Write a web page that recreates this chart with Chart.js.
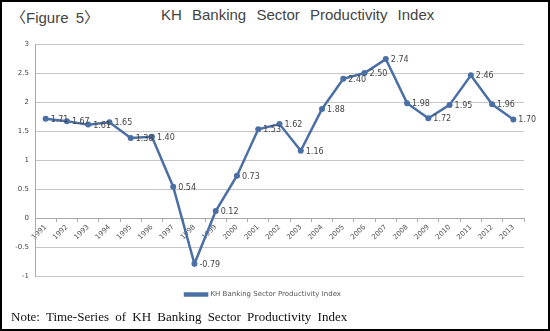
<!DOCTYPE html>
<html>
<head>
<meta charset="utf-8">
<script src="https://cdn.jsdelivr.net/npm/chart.js@4"></script>
<style>
  body { margin: 0; background: #fff; }
  #frame { position: relative; width: 550px; height: 331px; box-sizing: border-box; border: 2px solid #000; overflow: hidden; }
  #fig { position: absolute; left: 9px; top: 4px; font: 15px "Liberation Sans", "Noto Sans CJK KR", sans-serif; color: #444; word-spacing: 3px; }
  #title { position: absolute; left: 159px; top: 4px; font: 15px "Liberation Sans", sans-serif; color: #444; word-spacing: 6px; }
  #note { position: absolute; left: 9px; top: 307px; font: 13px "Liberation Serif", serif; color: #111; word-spacing: 3px; }
  #box { position: absolute; left: 0px; top: 30px; width: 546px; height: 278px; }
</style>
</head>
<body>
<div id="frame">
  <div id="fig">〈Figure 5〉</div>
  <div id="title">KH Banking Sector Productivity Index</div>
  <div id="box"><canvas id="chart"></canvas></div>
  <div id="note">Note: Time-Series of KH Banking Sector Productivity Index</div>
</div>
<script>
// -------------------------------
// DATA
// -------------------------------
const years = ["1991", "1992", "1993", "1994", "1995", "1996", "1997", "1998", "1999", "2000", "2001", "2002",
               "2003", "2004", "2005", "2006", "2007", "2008", "2009", "2010", "2011", "2012", "2013"];
const productivity = [1.71, 1.67, 1.61, 1.65, 1.38, 1.40, 0.54, -0.79, 0.12, 0.73, 1.53, 1.62,
                      1.16, 1.88, 2.40, 2.50, 2.74, 1.98, 1.72, 1.95, 2.46, 1.96, 1.70];
const seriesName = "KH Banking Sector Productivity Index";

// -------------------------------
// VALUE LABELS (right of each point)
// -------------------------------
const valueLabels = {
    id: "valueLabels",
    afterDatasetsDraw(chart) {
        const ctx = chart.ctx;
        const meta = chart.getDatasetMeta(0);
        ctx.save();
        ctx.font = "8px 'DejaVu Sans', sans-serif";
        ctx.fillStyle = "#444";
        ctx.textAlign = "left";
        ctx.textBaseline = "middle";
        meta.data.forEach((pt, i) => {
            ctx.fillText(productivity[i].toFixed(2), pt.x + 5, pt.y + 1);
        });
        ctx.restore();
    }
};

new Chart(document.getElementById("chart"), {
    type: "line",
    data: {
        labels: years,
        datasets: [{
            label: seriesName,
            data: productivity,
            borderColor: "#4a6fa5",
            backgroundColor: "#4a6fa5",
            borderWidth: 2.5,
            pointRadius: 3,
            pointBorderWidth: 0,
            tension: 0
        }]
    },
    options: {
        responsive: true,
        maintainAspectRatio: false,
        animation: false,
        layout: { padding: { left: 0, right: 24, top: 12, bottom: 2 } },
        scales: {
            x: {
                position: { y: 0 },
                offset: true,
                grid: { display: true, drawOnChartArea: false, offset: true, tickLength: 3, color: "#aaa" },
                border: { color: "#aaa" },
                ticks: {
                    color: "#555", font: { size: 7, family: "DejaVu Sans" },
                    minRotation: 45, maxRotation: 45, padding: 2, autoSkip: false
                }
            },
            y: {
                min: -1, max: 3,
                afterFit: s => { s.width = 33; },
                grid: { color: "#c6c6c6", drawTicks: false },
                border: { color: "#aaa" },
                ticks: {
                    stepSize: 0.5, color: "#444", font: { size: 7, family: "DejaVu Sans" }, padding: 6,
                    callback: v => String(Number(v.toFixed(1)))
                }
            }
        },
        plugins: {
            legend: {
                position: "bottom",
                labels: { color: "#555", font: { size: 7, family: "DejaVu Sans" }, boxWidth: 22, boxHeight: 2, padding: 15 }
            },
            tooltip: { enabled: false }
        }
    },
    plugins: [valueLabels]
});
</script>
</body>
</html>
